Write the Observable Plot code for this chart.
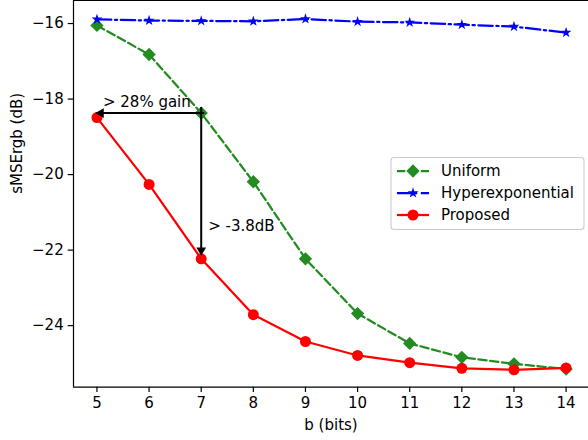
<!DOCTYPE html>
<html><head><meta charset="utf-8">
<script src="https://cdn.jsdelivr.net/npm/d3@7"></script>
<script src="https://cdn.jsdelivr.net/npm/@observablehq/plot@0.6"></script>
<style>body{margin:0;background:#fff}</style>
</head><body><div id="chart"></div>
<script>
// ---- data ----
const bits = [5, 6, 7, 8, 9, 10, 11, 12, 13, 14];
const uniform = [-16.05, -16.82, -18.37, -20.19, -22.23, -23.68, -24.47, -24.84, -25.01, -25.15];
const hyper = [-15.89, -15.92, -15.93, -15.94, -15.88, -15.95, -15.97, -16.03, -16.08, -16.24];
const proposed = [-18.49, -20.26, -22.23, -23.71, -24.42, -24.79, -24.98, -25.13, -25.17, -25.12];
const seriesNames = ["Uniform", "Hyperexponential", "Proposed"];
const seriesColors = ["#228b22", "#0000ff", "#ff0000"];
const xTicks = [5, 6, 7, 8, 9, 10, 11, 12, 13, 14];
const yTicks = [-16, -18, -20, -22, -24];
const xDomain = [4.55, 14.43];
const yDomain = [-25.63, -15.39];
const xLabel = "b (bits)";
const yLabel = "sMSErgb (dB)";
const gainText = "> 28% gain";
const dbText = "> -3.8dB";

// ---- styles ----
const lw = 2.25;
const dashes = ["8.3,3.6", "14.4,3.6,2.25,3.6", null];
const symbols = ["diamond2", "star", "circle"];
const radii = [6, 3.4, 5.5];
const font = "DejaVu Sans, sans-serif";
const fs = 15;

const series = [uniform, hyper, proposed].map((vals, k) =>
  bits.map((b, i) => ({b, v: vals[i], s: seriesNames[k]})));

const fmt = d => String(d).replace("-", "\u2212");

// annotation anchors derived from data
const i7 = bits.indexOf(7);
const start = {b: bits[i7], v: uniform[i7]};
const leftEnd = {b: bits[0], v: uniform[i7]};
const downEnd = {b: bits[i7], v: proposed[i7]};

const marks = [];
series.forEach((d, k) => {
  marks.push(Plot.line(d, {x: "b", y: "v", stroke: seriesColors[k], strokeWidth: lw,
    strokeDasharray: dashes[k] || undefined, strokeLinejoin: "round"}));
  marks.push(Plot.dot(d, {x: "b", y: "v", symbol: symbols[k], r: radii[k], fill: seriesColors[k], stroke: "none"}));
});

const chart = Plot.plot({
  width: 588, height: 440,
  marginLeft: 73, marginRight: 0, marginTop: 0, marginBottom: 53.3,
  x: {domain: xDomain},
  y: {domain: yDomain},
  style: {fontFamily: font, fontSize: fs + "px", color: "black", background: "white"},
  marks: [
    ...marks,
    // annotation arrows
    Plot.link([start], {x1: "b", y1: "v", x2: () => leftEnd.b, y2: () => leftEnd.v, stroke: "black", strokeWidth: 2, dx: 3}),
    Plot.link([start], {x1: "b", y1: "v", x2: () => downEnd.b, y2: () => downEnd.v, stroke: "black", strokeWidth: 2, dy: -6}),
    Plot.dot([leftEnd], {x: "b", y: "v", symbol: "triangle", r: 3.6, rotate: -90, fill: "black", dx: 4}),
    Plot.dot([downEnd], {x: "b", y: "v", symbol: "triangle", r: 3.6, rotate: 180, fill: "black", dy: -8.6}),
    Plot.text([gainText], {x: () => leftEnd.b, y: () => leftEnd.v, text: d => d, textAnchor: "start", dx: 6, dy: -10.6, fontSize: fs, fill: "black"}),
    Plot.text([dbText], {x: () => downEnd.b, y: () => downEnd.v, text: d => d, textAnchor: "start", dx: 7, dy: -33, fontSize: fs, fill: "black"}),
    // spines
    Plot.ruleX([xDomain[0]], {stroke: "black", strokeWidth: 1.2}),
    Plot.ruleY([yDomain[0]], {stroke: "black", strokeWidth: 1.2}),
    Plot.ruleY([yDomain[1]], {stroke: "black", strokeWidth: 1.2}),
    // axes
    Plot.axisX({ticks: xTicks, tickSize: 5.3, tickPadding: 4.5, tickFormat: fmt, label: null, strokeWidth: 1.2, fontSize: fs}),
    Plot.axisY({ticks: yTicks, tickSize: 5.3, tickPadding: 4.5, tickFormat: fmt, label: null, strokeWidth: 1.2, fontSize: fs}),
    Plot.text([xLabel], {frameAnchor: "bottom", text: d => d, dy: 43, fontSize: fs, fill: "black"}),
    Plot.text([yLabel], {frameAnchor: "left", text: d => d, rotate: -90, dx: -56, fontSize: fs, fill: "black"})
  ]
});
document.getElementById("chart").appendChild(chart);

// ---- legend ----
const svg = d3.select(chart);
const lg = svg.append("g").attr("font-family", font).attr("font-size", fs).attr("text-anchor", "start");
lg.append("rect").attr("x", 391).attr("y", 157.5).attr("width", 193).attr("height", 72)
  .attr("rx", 3).attr("fill", "white").attr("fill-opacity", 0.8).attr("stroke", "#cccccc").attr("stroke-width", 1.1);
const d3sym = {diamond2: d3.symbolDiamond2, star: d3.symbolStar, circle: d3.symbolCircle};
seriesNames.forEach((name, k) => {
  const y = 171 + k * 22;
  const ln = lg.append("line").attr("x1", 397).attr("x2", 429).attr("y1", y).attr("y2", y)
    .attr("stroke", seriesColors[k]).attr("stroke-width", lw);
  if (dashes[k]) ln.attr("stroke-dasharray", dashes[k]);
  lg.append("path").attr("transform", `translate(413,${y})`)
    .attr("d", d3.symbol(d3sym[symbols[k]], Math.PI * radii[k] * radii[k])())
    .attr("fill", seriesColors[k]);
  lg.append("text").attr("x", 441).attr("y", y).attr("dy", "0.35em").attr("fill", "black")
    .attr("text-anchor", "start").text(name);
});
</script>
</body></html>
